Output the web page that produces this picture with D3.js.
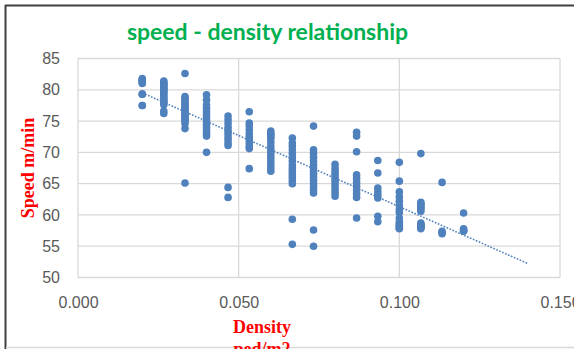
<!DOCTYPE html>
<html>
<head>
<meta charset="utf-8">
<script src="https://cdn.jsdelivr.net/npm/d3@7/dist/d3.min.js"></script>
<style>
  html, body { margin: 0; padding: 0; background: #ffffff; }
  svg { display: block; }
</style>
</head>
<body>
<svg id="chart" width="574" height="349"></svg>
<script>
// Pedestrian density levels (ped/m2) and the speeds (m/min) observed at each level
const densityLevels = [0.0200, 0.0267, 0.0333, 0.0400, 0.0467, 0.0533, 0.0600, 0.0667,
                       0.0733, 0.0800, 0.0867, 0.0933, 0.1000, 0.1067, 0.1133, 0.1200];
const speedsByLevel = [
  [81.8, 81.6, 81.5, 81.4, 81.2, 81.0, 79.3, 79.3, 77.5, 77.5],
  [81.4, 81.2, 81.0, 80.8, 80.6, 80.5, 80.2, 80.0, 79.9, 79.7, 79.4, 79.2, 78.8, 78.6, 78.3, 78.1, 77.9, 77.6, 76.6, 76.2],
  [82.6, 78.9, 78.6, 78.4, 78.0, 77.8, 77.5, 77.2, 77.0, 76.8, 76.5, 76.2, 76.0, 75.8, 75.5, 75.3, 75.0, 74.6, 73.8, 65.1],
  [79.2, 78.4, 77.6, 77.0, 76.5, 76.0, 75.5, 75.0, 74.5, 74.0, 73.5, 73.0, 72.6, 70.0],
  [75.8, 75.2, 74.6, 74.0, 73.5, 73.0, 72.5, 72.0, 71.5, 71.1, 64.4, 62.8],
  [76.5, 74.7, 74.2, 73.6, 73.0, 72.5, 72.0, 71.5, 71.0, 70.6, 67.4],
  [73.4, 73.0, 72.8, 72.5, 72.2, 71.6, 71.0, 70.5, 70.0, 69.5, 69.0, 68.5, 68.0, 67.5, 67.0],
  [72.3, 71.5, 71.0, 70.4, 69.8, 69.2, 68.6, 68.0, 67.5, 67.0, 66.5, 66.0, 65.5, 65.0, 59.3, 55.3],
  [74.2, 70.4, 69.8, 69.2, 68.6, 68.0, 67.5, 67.0, 66.5, 66.0, 65.5, 65.0, 64.5, 64.0, 63.5, 57.6, 55.0],
  [68.1, 67.5, 67.0, 66.5, 66.0, 65.5, 65.0, 64.5, 64.0, 63.5, 63.0],
  [73.2, 72.6, 70.1, 66.4, 65.8, 65.2, 64.6, 64.0, 63.4, 62.8, 59.5],
  [68.7, 66.7, 64.3, 63.7, 63.2, 62.7, 59.8, 58.9],
  [68.4, 65.4, 63.7, 62.9, 62.2, 61.5, 60.8, 60.4, 59.5, 58.9, 58.6, 58.3, 58.1, 57.9, 57.8],
  [69.8, 62.0, 61.8, 61.5, 61.2, 61.0, 60.6, 58.7, 58.5, 58.4, 58.2, 58.1, 58.0, 57.8],
  [65.2, 57.4, 57.2, 57.0],
  [60.3, 57.8, 57.6, 57.5, 57.4]
];
const xTicks = [0, 0.05, 0.10, 0.15];
const yTicks = [50, 55, 60, 65, 70, 75, 80, 85];
const trendForward = 0.02;   // forward forecast of the linear trend, in ped/m2

const titleText = "speed - density relationship";
const yTitle = "Speed m/min";
const xTitleLines = ["Density", "ped/m2"];

// Flatten into (density, speed) points
const points = [];
densityLevels.forEach((d, i) => speedsByLevel[i].forEach(s => points.push({ x: d, y: s })));

const svg = d3.select("#chart");
const plot = { left: 78, right: 560, top: 58.5, bottom: 277.5 };

const x = d3.scaleLinear().domain([0, 0.15]).range([plot.left, plot.right]);
const y = d3.scaleLinear().domain([50, 85]).range([plot.bottom, plot.top]);

// Outer frame of the chart
svg.append("line").attr("x1", 5).attr("x2", 574).attr("y1", 5.5).attr("y2", 5.5)
  .attr("stroke", "#404040").attr("stroke-width", 2);
svg.append("line").attr("x1", 5.5).attr("x2", 5.5).attr("y1", 5).attr("y2", 349)
  .attr("stroke", "#404040").attr("stroke-width", 2);
svg.append("line").attr("x1", 6).attr("x2", 574).attr("y1", 347.5).attr("y2", 347.5)
  .attr("stroke", "#d9d9d9").attr("stroke-width", 1.5);

// Gridlines
const grid = svg.append("g").attr("stroke", "#d9d9d9").attr("stroke-width", 1.3);
yTicks.forEach(t => grid.append("line")
  .attr("x1", plot.left).attr("x2", plot.right).attr("y1", y(t)).attr("y2", y(t)));
xTicks.forEach(t => grid.append("line")
  .attr("x1", x(t)).attr("x2", x(t)).attr("y1", plot.top).attr("y2", plot.bottom));

// Axes (labels only; lines come from the grid)
const tickFont = "'Liberation Sans', Arial, sans-serif";
const yAxis = svg.append("g").attr("transform", `translate(${plot.left - 18},0)`)
  .call(d3.axisLeft(y).tickValues(yTicks).tickSize(0).tickPadding(0).tickFormat(d3.format("d")));
yAxis.select(".domain").remove();
yAxis.selectAll("text").attr("font-family", tickFont).attr("font-size", 16).attr("fill", "#595959");

const xAxis = svg.append("g").attr("transform", `translate(0,${plot.bottom + 19})`)
  .call(d3.axisBottom(x).tickValues(xTicks).tickSize(0).tickPadding(0).tickFormat(d3.format(".3f")));
xAxis.select(".domain").remove();
xAxis.selectAll("text").attr("font-family", tickFont).attr("font-size", 16).attr("fill", "#595959");

// Points
svg.append("g").selectAll("circle").data(points).join("circle")
  .attr("cx", d => x(d.x)).attr("cy", d => y(d.y)).attr("r", 3.8)
  .attr("fill", "#4f81bd");

// Linear least-squares trend
const mx = d3.mean(points, d => d.x), my = d3.mean(points, d => d.y);
const sxy = d3.sum(points, d => (d.x - mx) * (d.y - my));
const sxx = d3.sum(points, d => (d.x - mx) ** 2);
const slope = sxy / sxx, intercept = my - slope * mx;
const tx0 = d3.min(densityLevels), tx1 = d3.max(densityLevels) + trendForward;
svg.append("line")
  .attr("x1", x(tx0)).attr("y1", y(intercept + slope * tx0))
  .attr("x2", x(tx1)).attr("y2", y(intercept + slope * tx1))
  .attr("stroke", "#4f81bd").attr("stroke-width", 1.6)
  .attr("stroke-dasharray", "1.6,1.6");

// Title
svg.append("text").attr("x", 267.5).attr("y", 39.5).attr("text-anchor", "middle")
  .attr("font-family", "Lato, 'Open Sans', sans-serif").attr("font-weight", "bold")
  .attr("font-size", 23).attr("fill", "#00b050").text(titleText);

// Axis titles
const serif = "'Liberation Serif', 'Times New Roman', serif";
svg.append("text").attr("transform", "translate(34,168) rotate(-90)")
  .attr("text-anchor", "middle").attr("font-family", serif).attr("font-weight", "bold")
  .attr("font-size", 18).attr("fill", "#ff0000").text(yTitle);

svg.append("g").selectAll("text").data(xTitleLines).join("text")
  .attr("x", 262).attr("y", (d, i) => 333 + i * 22).attr("text-anchor", "middle")
  .attr("font-family", serif).attr("font-weight", "bold")
  .attr("font-size", 18).attr("fill", "#ff0000").text(d => d);
</script>
</body>
</html>
